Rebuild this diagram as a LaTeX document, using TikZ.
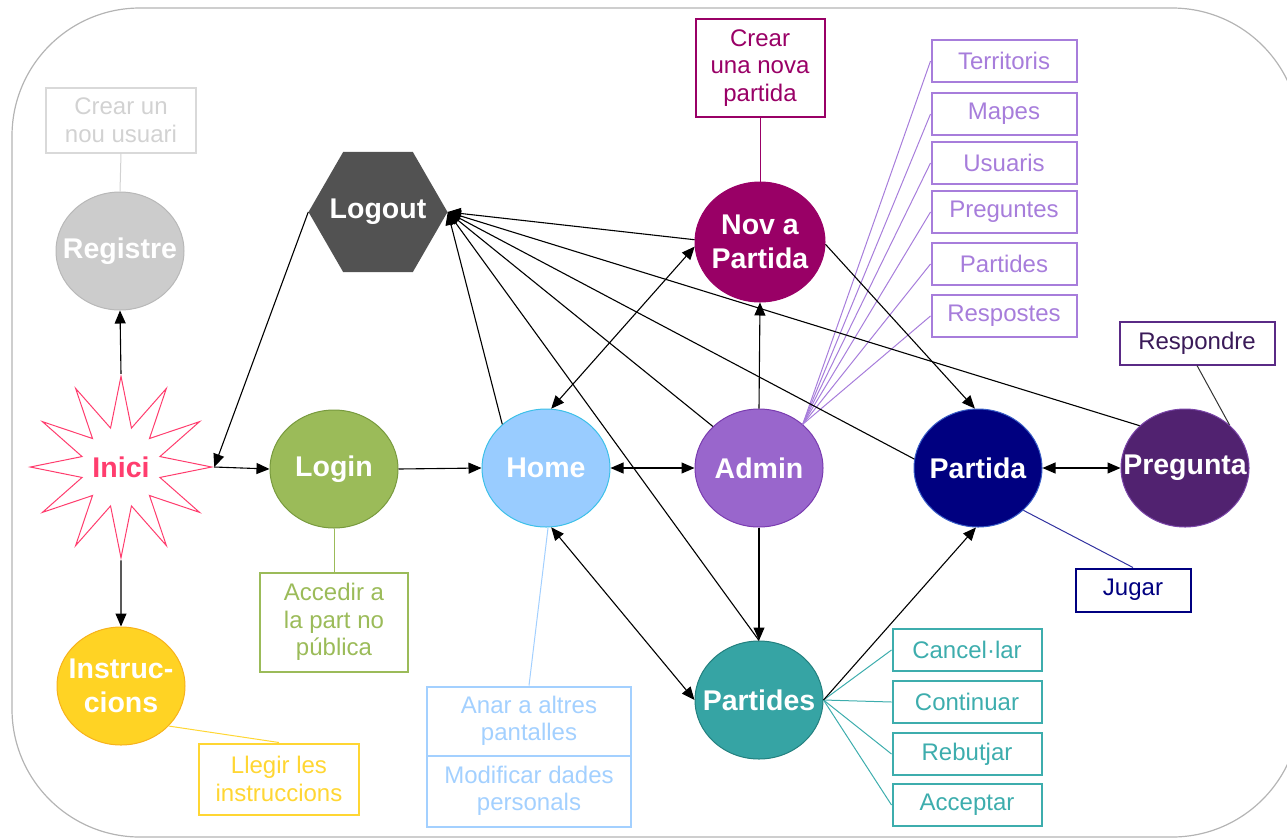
\documentclass[tikz,border=0pt]{standalone}
\usepackage{fontspec}
\setmainfont{Liberation Sans}
\usetikzlibrary{shapes.geometric,arrows.meta}
\definecolor{frame}{HTML}{B4B4B4}
\definecolor{regfill}{HTML}{CCCCCC}
\definecolor{regline}{HTML}{B8B8B8}
\definecolor{regtext}{HTML}{D2D2D2}
\definecolor{logoutfill}{HTML}{525252}
\definecolor{inicicol}{HTML}{FF3D6E}
\definecolor{loginfill}{HTML}{9BBB59}
\definecolor{loginline}{HTML}{789A3E}
\definecolor{instrfill}{HTML}{FFD324}
\definecolor{instrline}{HTML}{F7B21B}
\definecolor{llegircol}{HTML}{FFD633}
\definecolor{homefill}{HTML}{99CCFF}
\definecolor{homeline}{HTML}{3CC0E8}
\definecolor{homebox}{HTML}{A3D0FF}
\definecolor{adminfill}{HTML}{9966CC}
\definecolor{adminline}{HTML}{7A3CB0}
\definecolor{adminbox}{HTML}{A77DDB}
\definecolor{novafill}{HTML}{990066}
\definecolor{partidesfill}{HTML}{36A4A4}
\definecolor{partidesline}{HTML}{23807F}
\definecolor{tealbox}{HTML}{3DADAD}
\definecolor{partidafill}{HTML}{000080}
\definecolor{partidaline}{HTML}{3A5FC8}
\definecolor{jugarline}{HTML}{3333A0}
\definecolor{preguntafill}{HTML}{512270}
\definecolor{preguntaline}{HTML}{7A45A8}
\definecolor{respbox}{HTML}{5A2A86}
\definecolor{resptext}{HTML}{3A1A58}
\newcommand\lblfont{\fontsize{28.5}{34}\selectfont\bfseries}
\newcommand\boxfont{\fontsize{24}{27.5}\selectfont}
\begin{document}
\begin{tikzpicture}[x=1pt,y=-1pt,
  circ/.style={ellipse, draw, minimum width=128pt, minimum height=118pt, inner xsep=-45pt, inner ysep=-20pt, line width=1pt, font=\lblfont, text=white, align=center},
  infobox/.style={rectangle, draw, line width=2pt, align=center, inner sep=0pt, font=\boxfont},
  adminitem/.style={infobox, draw=adminbox, text=adminbox, minimum width=145pt, minimum height=42pt},
  tealitem/.style={infobox, draw=tealbox, text=tealbox, minimum width=149pt, minimum height=42pt},
  arr/.style={-{Triangle[length=13pt,width=11pt]}, line width=1.1pt, black},
  darr/.style={{Triangle[length=13pt,width=11pt]}-{Triangle[length=13pt,width=11pt]}, line width=1.1pt, black},
  link/.style={line width=1pt}
]
\useasboundingbox (0,0) rectangle (1287,839);
% frame
\draw[frame, line width=1.2pt, rounded corners=128pt] (12,8) rectangle (1300,837);

% nodes
\node[circ, fill=regfill, draw=regline] (reg) at (120,251) {Registre};
\node[infobox, draw=regtext!85, text=regtext, minimum width=150pt, minimum height=65pt] (crearusr) at (121,120) {Crear un\\nou usuari};
\node[regular polygon, regular polygon sides=6, minimum size=139pt, inner sep=-30pt, fill=logoutfill, font=\lblfont, text=white] (logout) at (378,212) {Logout};
\node[star, star points=12, star point ratio=2.25, minimum size=178pt, inner sep=0pt, draw=inicicol, fill=white, line width=1pt, font=\lblfont, text=inicicol] (inici) at (121,467) {Inici};
\node[circ, fill=loginfill, draw=loginline] (login) at (334,469) {Login};
\node[infobox, draw=loginfill, text=loginfill, minimum width=148pt, minimum height=99pt] (accedir) at (334,622) {Accedir a\\la part no\\pública};
\node[circ, fill=instrfill, draw=instrline] (instr) at (121,686) {Instruc-\\cions};
\node[infobox, draw=llegircol, text=llegircol, minimum width=160pt, minimum height=71pt] (llegir) at (279,779) {Llegir les\\instruccions};
\node[circ, fill=homefill, draw=homeline] (home) at (546,468) {Home};
\node[infobox, draw=homebox, text=homebox, minimum width=204pt, minimum height=69pt] (anar) at (529,721) {Anar a altres\\pantalles};
\node[infobox, draw=homebox, text=homebox, minimum width=204pt, minimum height=71pt] (modif) at (529,791) {Modificar dades\\personals};
\node[circ, fill=adminfill, draw=adminline] (admin) at (759,468) {Admin};
\node[circ, fill=novafill, draw=novafill, minimum width=130pt, minimum height=120pt] (nova) at (760,242) {Nov a\\Partida};
\node[infobox, draw=novafill, text=novafill, minimum width=129pt, minimum height=98pt] (crearpart) at (760,68) {Crear\\una nova\\partida};
\node[circ, fill=partidesfill, draw=partidesline] (partides) at (759,700) {Partides};
\node[tealitem] (cancel) at (967,650) {Cancel·lar};
\node[tealitem] (continuar) at (967,702) {Continuar};
\node[tealitem] (rebutjar) at (967,754) {Rebutjar};
\node[tealitem] (acceptar) at (967,805) {Acceptar};
\node[circ, fill=partidafill, draw=partidaline] (partida) at (978,468) {Partida};
\node[infobox, draw=partidafill, text=partidafill, minimum width=115pt, minimum height=43pt] (jugar) at (1133,590) {Jugar};
\node[circ, fill=preguntafill, draw=preguntaline] (pregunta) at (1185,468) {Pregunta};
\node[infobox, draw=respbox, text=resptext, minimum width=155pt, minimum height=43pt] (respondre) at (1197,343) {Respondre};
\node[adminitem] (territoris) at (1004,61) {Territoris};
\node[adminitem] (mapes) at (1004,114) {Mapes};
\node[adminitem] (usuaris) at (1004,163) {Usuaris};
\node[adminitem] (preguntes) at (1004,212) {Preguntes};
\node[adminitem] (partidesb) at (1004,264) {Partides};
\node[adminitem] (respostes) at (1004,316) {Respostes};

% link lines
\draw[link, regtext] (crearusr.south) -- (reg.north);
\draw[link, novafill] (crearpart.south) -- (nova.north);
\draw[link, loginfill] (login.south) -- (accedir.north);
\draw[link, llegircol] (instr.-40) -- (llegir.north);
\draw[link, homebox] (anar.north) -- (home.-88);
\foreach \b in {territoris,mapes,usuaris,preguntes,partidesb,respostes}
  \draw[link, adminbox] (admin.45) -- (\b.west);
\foreach \b in {cancel,continuar,rebutjar,acceptar}
  \draw[link, tealbox] (partides.east) -- (\b.west);
\draw[link, jugarline] (partida.-43) -- (jugar.north);
\draw[link, black!80] (respondre.south) -- (pregunta.44);

% connectors
\draw[arr] (inici.north) -- (reg.south);
\draw[arr] (inici.south) -- (instr.north);
\draw[arr] (inici.east) -- (login.west);
\draw[arr] (logout.west) -- (inici.east);
\draw[arr] (login.east) -- (home.west);
\draw[darr] (home.east) -- (admin.west);
\draw[arr] (home.135) -- (logout.east);
\draw[arr] (nova.178) -- (logout.east);
\draw[arr] (admin.138) -- (logout.east);
\draw[arr] (partides.north) -- (logout.east);
\draw[arr] (partida.172) -- (logout.east);
\draw[arr] (pregunta.137) -- (logout.east);
\draw[darr] (home.85) -- (nova.184);
\draw[arr] (admin.north) -- (nova.south);
\draw[arr] (admin.south) -- (partides.north);
\draw[darr] (home.-85) -- (partides.west);
\draw[arr] (nova.-2) -- (partida.93);
\draw[arr] (partides.east) -- (partida.-92);
\draw[darr] (partida.east) -- (pregunta.west);
\end{tikzpicture}
\end{document}
